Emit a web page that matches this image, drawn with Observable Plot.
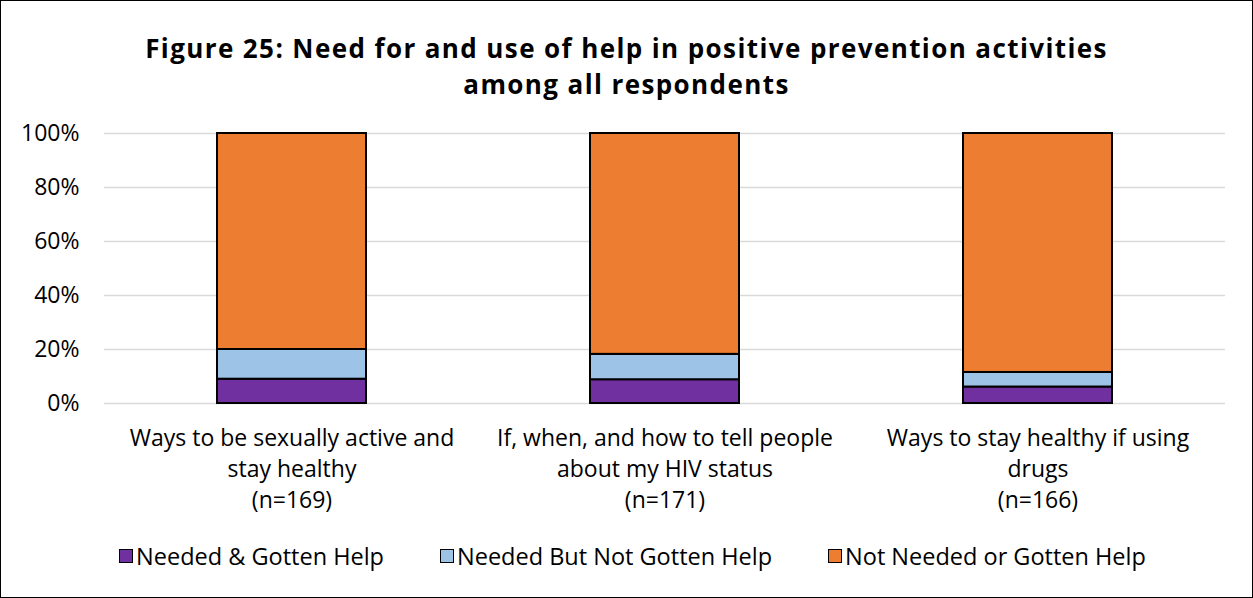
<!DOCTYPE html>
<html>
<head>
<meta charset="utf-8">
<script src="https://cdn.jsdelivr.net/npm/d3@7"></script>
<script src="https://cdn.jsdelivr.net/npm/@observablehq/plot@0.6"></script>
<style>
  html, body { margin: 0; padding: 0; background: #fff; }
  #frame {
    width: 1253px; height: 598px; box-sizing: border-box;
    border: 1.5px solid #000; position: relative; overflow: hidden;
    font-family: "Open Sans", Lato, sans-serif; color: #000;
  }
  #title {
    padding-top: 30px; height: 69px; box-sizing: content-box; text-align: center;
    font-weight: bold; font-size: 26px; line-height: 35.5px; letter-spacing: 1.4px;
  }
  #title div { height: 35.5px; white-space: nowrap; }
  #legend {
    display: flex; justify-content: center; gap: 56px;
    font-size: 23.5px; line-height: 24px; padding-top: 14px; padding-left: 12px;
  }
  #legend .item { display: flex; align-items: center; }
  #legend .swatch {
    width: 12px; height: 12px; border: 1.5px solid #000; margin-right: 3px;
  }
  svg { display: block; }
</style>
</head>
<body>
<div id="frame">
  <div id="title"><div>Figure 25: Need for and use of help in positive prevention activities</div><div>among all respondents</div></div>
  <div id="chart"></div>
  <div id="legend"></div>
</div>
<script>
// Categories and their axis labels
const categories = ["sexual", "disclosure", "drugs"];
const tickLabels = [
  "Ways to be sexually active and\nstay healthy\n(n=169)",
  "If, when, and how to tell people\nabout my HIV status\n(n=171)",
  "Ways to stay healthy if using\ndrugs\n(n=166)"
];

// Series (percent of respondents)
const seriesNames = ["Needed & Gotten Help", "Needed But Not Gotten Help", "Not Needed or Gotten Help"];
const seriesColors = ["#7030a0", "#9dc3e6", "#ed7d31"];
const neededGotten = [9.0, 8.8, 6.1];
const neededNotGotten = [11.0, 9.4, 5.4];
const notNeeded = [80.0, 81.8, 88.5];

const yTicks = [0, 20, 40, 60, 80, 100];

const seriesValues = [neededGotten, neededNotGotten, notNeeded];
const rows = [];
seriesNames.forEach((s, si) => {
  categories.forEach((c, ci) => rows.push({category: c, series: s, value: seriesValues[si][ci]}));
});

const chart = Plot.plot({
  width: 1250,
  height: 430,
  marginTop: 33,
  marginBottom: 127,
  marginLeft: 103,
  marginRight: 26,
  style: {fontFamily: "'Open Sans', Lato, sans-serif", fontSize: "23px", color: "#000"},
  x: {domain: categories, paddingInner: 0.6, paddingOuter: 0.3, label: null},
  y: {domain: [0, 100], label: null},
  color: {domain: seriesNames, range: seriesColors},
  marks: [
    Plot.gridY(yTicks, {stroke: "#d9d9d9", strokeOpacity: 1, strokeWidth: 1.5}),
    Plot.barY(rows, {x: "category", y: "value", fill: "series", stroke: "#000", strokeWidth: 2}),
    Plot.axisY(yTicks, {tickSize: 0, tickPadding: 25, fontSize: 23, tickFormat: d => d + "%", label: null}),
    Plot.axisX({tickSize: 0, tickPadding: 20, fontSize: 23, lineHeight: 1.35,
      tickFormat: d => tickLabels[categories.indexOf(d)], label: null})
  ]
});
document.getElementById("chart").appendChild(chart);

// Legend
const legend = document.getElementById("legend");
seriesNames.forEach((s, i) => {
  const item = document.createElement("div");
  item.className = "item";
  const sw = document.createElement("span");
  sw.className = "swatch";
  sw.style.background = seriesColors[i];
  const label = document.createElement("span");
  label.textContent = s;
  item.appendChild(sw);
  item.appendChild(label);
  legend.appendChild(item);
});
</script>
</body>
</html>
